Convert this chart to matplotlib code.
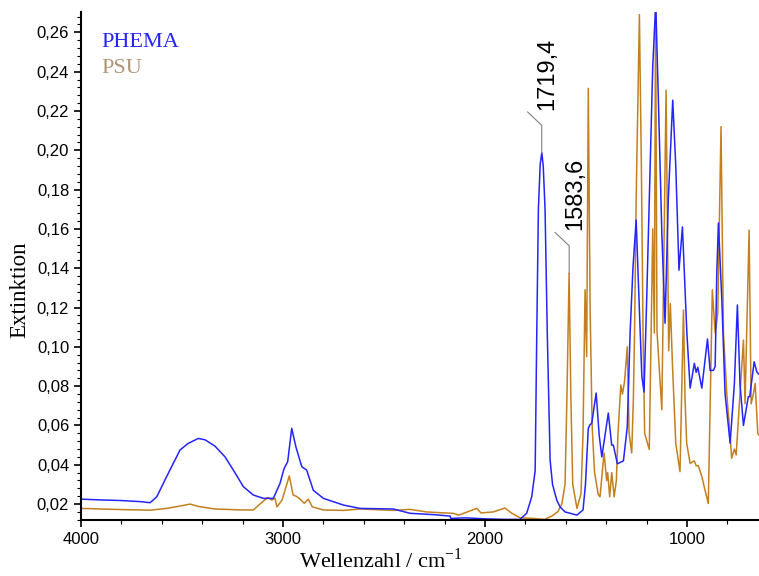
import matplotlib
matplotlib.use('Agg')
from matplotlib import pyplot as plt
from matplotlib.ticker import MultipleLocator, FuncFormatter

plt.rcParams['mathtext.fontset'] = 'custom'
plt.rcParams['mathtext.rm'] = 'Liberation Serif'

# PHEMA spectrum (wavenumber / cm-1, extinction)
phema_wn = [4000, 3900, 3800, 3700, 3658, 3625, 3576, 3510, 3469, 3419, 3386, 3337,
            3287, 3246, 3196, 3147, 3097, 3048, 3015, 2995, 2977, 2957, 2936, 2907,
            2883, 2850, 2800, 2701, 2619, 2454, 2371, 2250, 2173, 2170, 2100, 2000,
            1900, 1827, 1794, 1769, 1752, 1744, 1736, 1727, 1719, 1712, 1703, 1692, 1678, 1666,
            1645, 1629, 1604, 1545, 1515, 1503, 1489, 1480, 1472, 1450, 1435, 1422,
            1390, 1373, 1365, 1345, 1315, 1296, 1282, 1268, 1252, 1240, 1224, 1213,
            1200, 1187, 1170, 1155, 1142, 1125, 1109, 1093, 1071, 1056, 1040, 1023,
            1001, 985, 964, 955, 947, 927, 899, 886, 870, 861, 853, 845, 828, 812,
            787, 766, 751, 738, 721, 697, 690, 668, 655, 644]
phema_abs = [0.0225, 0.0221, 0.0218, 0.0212, 0.0207, 0.0237, 0.034, 0.0475, 0.0509, 0.0534, 0.0527, 0.0495,
             0.044, 0.0373, 0.0288, 0.0246, 0.0229, 0.0229, 0.0305, 0.038, 0.0415, 0.0585, 0.049, 0.039,
             0.0373, 0.027, 0.0229, 0.0195, 0.0178, 0.0175, 0.0153, 0.0146, 0.0139, 0.0127, 0.013, 0.0125,
             0.0122, 0.0122, 0.0153, 0.0237, 0.037, 0.107, 0.170, 0.193, 0.1987, 0.192, 0.170, 0.107, 0.0424, 0.030,
             0.022, 0.0186, 0.016, 0.0144, 0.017, 0.030, 0.0585, 0.0605, 0.061, 0.0765, 0.055, 0.044,
             0.0663, 0.050, 0.050, 0.0405, 0.042, 0.0593, 0.107, 0.14, 0.1645, 0.13, 0.085, 0.077,
             0.124, 0.175, 0.2425, 0.275, 0.2255, 0.158, 0.112, 0.175, 0.2255, 0.192, 0.139, 0.161,
             0.107, 0.079, 0.0916, 0.087, 0.0896, 0.079, 0.104, 0.088, 0.088, 0.090, 0.137, 0.163, 0.124, 0.0763,
             0.051, 0.081, 0.1213, 0.081, 0.060, 0.0746, 0.0746, 0.0924, 0.0873, 0.086]

# PSU spectrum
psu_wn = [4000, 3900, 3800, 3658, 3576, 3510, 3460, 3419, 3337, 3200, 3147, 3110,
          3075, 3055, 3040, 3030, 3005, 2969, 2950, 2935, 2920, 2895, 2875, 2855,
          2800, 2701, 2619, 2454, 2371, 2290, 2200, 2157, 2130, 2041, 2020, 1960,
          1901, 1870, 1827, 1760, 1705, 1670, 1640, 1620, 1604, 1595, 1584, 1575,
          1566, 1545, 1525, 1515, 1505, 1497, 1489, 1480, 1470, 1458, 1440, 1431,
          1411, 1398, 1393, 1383, 1373, 1361, 1350, 1342, 1328, 1320, 1310, 1296,
          1287, 1274, 1266, 1260, 1252, 1236, 1226, 1218, 1210, 1187, 1178, 1170,
          1162, 1156, 1149, 1125, 1104, 1091, 1083, 1072, 1056, 1035, 1018, 1010,
          1002, 985, 964, 955, 944, 927, 911, 895, 875, 861, 848, 832, 820, 803,
          792, 779, 766, 757, 738, 721, 713, 693, 683, 672, 663, 650, 644]
psu_abs = [0.0178, 0.0175, 0.0172, 0.0169, 0.0178, 0.019, 0.020, 0.0188, 0.0175, 0.017, 0.017, 0.0204,
           0.0234, 0.022, 0.023, 0.0186, 0.022, 0.0343, 0.0246, 0.024, 0.0229, 0.0204, 0.0225, 0.0186,
           0.017, 0.0168, 0.0175, 0.0168, 0.0173, 0.016, 0.0155, 0.0153, 0.0144, 0.0178, 0.0155, 0.016,
           0.018, 0.0155, 0.013, 0.0127, 0.0122, 0.0139, 0.0161, 0.020, 0.030, 0.073, 0.1374, 0.073,
           0.030, 0.0178, 0.0254, 0.056, 0.129, 0.095, 0.2315, 0.12, 0.06, 0.036, 0.025, 0.0237,
           0.046, 0.032, 0.036, 0.0237, 0.036, 0.0237, 0.032, 0.056, 0.0806, 0.076, 0.082, 0.100,
           0.056, 0.046, 0.073, 0.107, 0.175, 0.269, 0.19, 0.107, 0.056, 0.0478, 0.107, 0.160,
           0.107, 0.275, 0.108, 0.068, 0.2306, 0.098, 0.122, 0.090, 0.051, 0.0365, 0.1187, 0.073,
           0.051, 0.0407, 0.042, 0.0395, 0.0395, 0.034, 0.027, 0.0203, 0.129, 0.107, 0.117, 0.212, 0.107, 0.0755,
           0.061, 0.0433, 0.048, 0.045, 0.0763, 0.1034, 0.071, 0.1594, 0.071, 0.076, 0.0814, 0.056, 0.055]

# labelled peaks
peak_labels = ['1719,4', '1583,6']
peak_wn = [1719.4, 1583.6]
peak_abs = [0.1987, 0.1374]

PHEMA_COLOR = '#2424ff'
PSU_COLOR = '#c3801e'

fig = plt.figure(figsize=(7.59, 5.76), dpi=100)
ax = fig.add_axes([81 / 759, 56 / 576, 678 / 759, 508.5 / 576])

ax.plot(psu_wn, psu_abs, color=PSU_COLOR, lw=1.1)
ax.plot(phema_wn, phema_abs, color=PHEMA_COLOR, lw=1.1)

ax.set_xlim(4000, 644)
ax.set_ylim(0.0119, 0.2706)

# peak labels with leader lines
for lab, wn, a in zip(peak_labels, peak_wn, peak_abs):
    elbow = a + 0.014
    ax.plot([wn, wn, wn + 70], [a, elbow, elbow + 0.0068], color='#808080', lw=0.8)
    ax.text(wn - 28, elbow + 0.008, lab, rotation=90, ha='center', va='bottom',
            fontsize=17, family='Liberation Sans')

# legend as coloured text
ax.text(3900, 0.2527, 'PHEMA', color=PHEMA_COLOR, fontsize=16, family='Liberation Serif')
ax.text(3900, 0.2391, 'PSU', color='#b09375', fontsize=16, family='Liberation Serif')

for side in ['top', 'right']:
    ax.spines[side].set_visible(False)
for side in ['left', 'bottom']:
    ax.spines[side].set_linewidth(1.5)

ax.xaxis.set_major_locator(MultipleLocator(1000))
ax.xaxis.set_minor_locator(MultipleLocator(200))
ax.yaxis.set_major_locator(MultipleLocator(0.02))
ax.yaxis.set_minor_locator(MultipleLocator(0.004))
ax.yaxis.set_major_formatter(FuncFormatter(lambda v, _: f'{v:.2f}'.replace('.', ',')))
ax.tick_params(which='major', direction='out', length=5, width=1.2, labelsize=12)
ax.tick_params(which='minor', direction='out', length=3, width=0.8)
for lbl in ax.get_xticklabels() + ax.get_yticklabels():
    lbl.set_family('Liberation Sans')

ax.set_ylabel('Extinktion', family='Liberation Serif', fontsize=16.5)
ax.set_xlabel(r'Wellenzahl / cm$^{\mathrm{-1}}$', family='Liberation Serif', fontsize=16)
ax.yaxis.set_label_coords(-0.075, 0.452)
ax.xaxis.set_label_coords(0.4425, -0.055)

plt.savefig('out.png', dpi=100)
